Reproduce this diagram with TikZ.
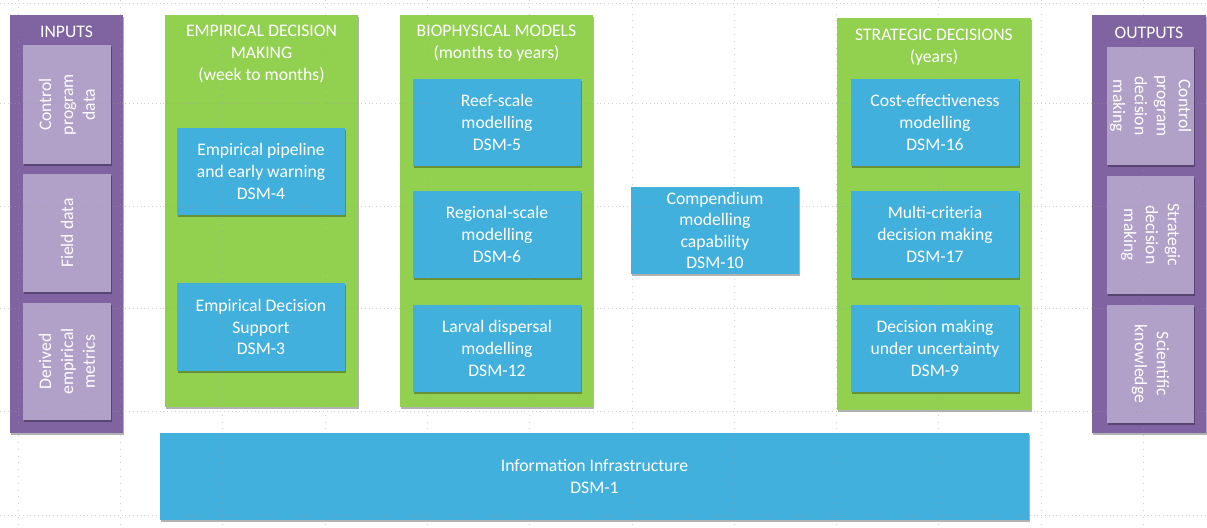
\documentclass[tikz,border=0pt]{standalone}
\usepackage{fontspec}
\setmainfont{Carlito}
\usetikzlibrary{shadows}
\definecolor{panelpurple}{HTML}{8064A2}
\definecolor{lightpurple}{HTML}{B1A0C7}
\definecolor{panelgreen}{HTML}{92D050}
\definecolor{dsmblue}{HTML}{41B0DC}
\definecolor{guidegray}{HTML}{9A9A9A}
\tikzset{
  base/.style={draw=none, inner sep=0pt, outer sep=0pt, text=white, align=center,
    font=\fontsize{17.7}{22}\selectfont},
  shade box/.style={drop shadow={shadow xshift=1.2bp, shadow yshift=-2bp, opacity=0.3, fill=black}},
  sidepanel/.style={base, fill=panelpurple, shade box},
  colpanel/.style={base, fill=panelgreen, shade box},
  subbox/.style={base, fill=lightpurple, shade box, minimum width=88bp},
  dsmbox/.style={base, fill=dsmblue, shade box, minimum width=168bp, minimum height=87bp},
  title/.style={base, fill=none},
  guide/.style={guidegray, opacity=0.45, line width=0.6bp, dash pattern=on 0.8bp off 3bp}
}
\begin{document}
\begin{tikzpicture}[x=1bp, y=-1bp]
\useasboundingbox (0,0) rectangle (1207,528);

% side panels
\node[sidepanel, minimum width=113bp, minimum height=418bp] (inputs) at (66.5,224) {};
\node[sidepanel, minimum width=114bp, minimum height=418bp] (outputs) at (1149,224) {};

% column panels
\node[colpanel, minimum width=193bp, minimum height=392bp] (empirical) at (261.5,211) {};
\node[colpanel, minimum width=193bp, minimum height=392bp] (biophys) at (496.5,211) {};
\node[colpanel, minimum width=194bp, minimum height=392bp] (strategic) at (934,214) {};

% panel titles
\node[title] (inputsT) at (66.5,32) {INPUTS};
\node[title] (outputsT) at (1149,33) {OUTPUTS};
\node[title] (empiricalT) at (261.5,54) {EMPIRICAL DECISION\\MAKING\\(week to months)};
\node[title] (biophysT) at (496.5,43) {BIOPHYSICAL MODELS\\(months to years)};
\node[title] (strategicT) at (934,47) {STRATEGIC DECISIONS\\(years)};

% input boxes
\node[subbox, minimum height=119bp] (in1) at (67,104.5) {};
\node[subbox, minimum height=118bp] (in2) at (67,233) {};
\node[subbox, minimum height=117bp] (in3) at (67,361.5) {};
\node[title, rotate=90] at (in1.center) {Control\\program\\data};
\node[title, rotate=90] at (in2.center) {Field data};
\node[title, rotate=90] at (in3.center) {Derived\\empirical\\metrics};

% output boxes
\node[subbox, minimum width=87bp, minimum height=118bp] (out1) at (1150.5,106) {};
\node[subbox, minimum width=87bp, minimum height=118bp] (out2) at (1150.5,235) {};
\node[subbox, minimum width=87bp, minimum height=118bp] (out3) at (1150.5,364) {};
\node[title, rotate=-90] at (out1.center) {Control\\program\\decision\\making};
\node[title, rotate=-90] at (out2.center) {Strategic\\decision\\making};
\node[title, rotate=-90] at (out3.center) {Scientific\\knowledge};

% decision support modules
\node[dsmbox] (dsm4) at (261,171.5) {Empirical pipeline\\and early warning\\DSM-4};
\node[dsmbox, minimum height=88bp] (dsm3) at (261,327) {Empirical Decision\\Support\\DSM-3};
\node[dsmbox] (dsm5) at (497,122.5) {Reef-scale\\modelling\\DSM-5};
\node[dsmbox] (dsm6) at (497,234.5) {Regional-scale\\modelling\\DSM-6};
\node[dsmbox] (dsm12) at (497,348.5) {Larval dispersal\\modelling\\DSM-12};
\node[dsmbox, font=\fontsize{17.7}{21.7}\selectfont] (dsm10) at (715,230.5) {Compendium\\modelling\\capability\\DSM-10};
\node[dsmbox] (dsm16) at (935,122.5) {Cost-effectiveness\\modelling\\DSM-16};
\node[dsmbox] (dsm17) at (935,234.5) {Multi-criteria\\decision making\\DSM-17};
\node[dsmbox] (dsm9) at (935,348.5) {Decision making\\under uncertainty\\DSM-9};
\node[dsmbox, minimum width=869bp] (dsm1) at (594.5,476.5) {Information Infrastructure\\DSM-1};

% layout guides
\foreach \gy in {3,103.5,206,308.5,411,515}
  \draw[guide] (0,\gy) -- (1207,\gy);
\foreach \k in {0,...,11}
  \draw[guide, dash pattern=on 0.8bp off 6bp] ({18+102.3*\k},0) -- ({18+102.3*\k},528);
\end{tikzpicture}
\end{document}
